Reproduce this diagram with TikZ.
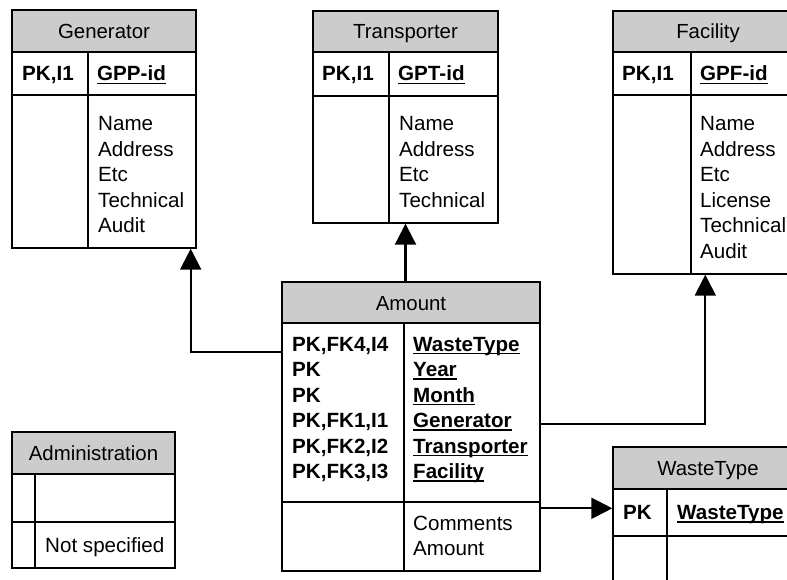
\documentclass[tikz,border=0pt]{standalone}
\usepackage{fontspec}
\setmainfont{Liberation Sans}
\usetikzlibrary{arrows.meta}

\newcommand{\keyul}[1]{\setbox0\hbox{#1}\rlap{\rule[-3.4pt]{\wd0}{1.6pt}}\box0}

\tikzset{
  tbl/.style={draw, line width=1.4pt, inner sep=0pt},
  hdr/.style={fill=black!20},
  fld/.style={inner sep=0pt, anchor=base west, font=\fontsize{20.6}{24}\selectfont},
  ttl/.style={inner sep=0pt, anchor=base, font=\fontsize{20.4}{24}\selectfont},
  conn/.style={line width=2.2pt, -{Triangle[length=21pt,width=21pt]}}
}

\begin{document}
\begin{tikzpicture}[x=1pt,y=-1pt]
	\clip (0,0) rectangle (787,580);
	% Generator
	\fill[hdr] (12,10) rectangle (196,52);
	\node[tbl, minimum width=184pt, minimum height=238pt] (gen) at (104,129) {};
	\draw[line width=1.4pt] (12,52) -- (196,52) (12,95) -- (196,95) (88,52) -- (88,248);
	\node[ttl] (gen-t) at (104,39) {Generator};
	\node[fld] (gen-pk) at (22,81) {\textbf{PK,I1}};
	\node[fld] (gen-id) at (97,81) {\textbf{\keyul{GPP-id}}};
	\node[fld] (gen-f1) at (98,131) {Name};
	\node[fld] (gen-f2) at (98,156.5) {Address};
	\node[fld] (gen-f3) at (98,182) {Etc};
	\node[fld] (gen-f4) at (98,207.5) {Technical};
	\node[fld] (gen-f5) at (98,233) {Audit};
	% Transporter
	\fill[hdr] (313,11) rectangle (498,52);
	\node[tbl, minimum width=185pt, minimum height=212pt] (trans) at (405.5,117) {};
	\draw[line width=1.4pt] (313,52) -- (498,52) (313,96) -- (498,96) (389,52) -- (389,223);
	\node[ttl] (trans-t) at (405.5,39) {Transporter};
	\node[fld] (trans-pk) at (322,81) {\textbf{PK,I1}};
	\node[fld] (trans-id) at (398,81) {\textbf{\keyul{GPT-id}}};
	\node[fld] (trans-f1) at (399,131) {Name};
	\node[fld] (trans-f2) at (399,156.5) {Address};
	\node[fld] (trans-f3) at (399,182) {Etc};
	\node[fld] (trans-f4) at (399,207.5) {Technical};
	% Facility
	\fill[hdr] (613,11) rectangle (803,52);
	\node[tbl, minimum width=190pt, minimum height=263pt] (fac) at (708,142.5) {};
	\draw[line width=1.4pt] (613,52) -- (803,52) (613,95) -- (803,95) (691,52) -- (691,274);
	\node[ttl] (fac-t) at (708,39) {Facility};
	\node[fld] (fac-pk) at (622,81) {\textbf{PK,I1}};
	\node[fld] (fac-id) at (700,81) {\textbf{\keyul{GPF-id}}};
	\node[fld] (fac-f1) at (700,131) {Name};
	\node[fld] (fac-f2) at (700,156.5) {Address};
	\node[fld] (fac-f3) at (700,182) {Etc};
	\node[fld] (fac-f4) at (700,207.5) {License};
	\node[fld] (fac-f5) at (700,233) {Technical};
	\node[fld] (fac-f6) at (700,258.5) {Audit};
	% Amount
	\fill[hdr] (282,282) rectangle (540,323);
	\node[tbl, minimum width=258pt, minimum height=289pt] (amt) at (411,426.5) {};
	\draw[line width=1.4pt] (282,323) -- (540,323) (282,502) -- (540,502) (404,323) -- (404,571);
	\node[ttl] (amt-t) at (411,310) {Amount};
	\node[fld] (amt-k1) at (292,351) {\textbf{PK,FK4,I4}};
	\node[fld] (amt-k2) at (292,376.5) {\textbf{PK}};
	\node[fld] (amt-k3) at (292,402) {\textbf{PK}};
	\node[fld] (amt-k4) at (292,427.5) {\textbf{PK,FK1,I1}};
	\node[fld] (amt-k5) at (292,453) {\textbf{PK,FK2,I2}};
	\node[fld] (amt-k6) at (292,478.5) {\textbf{PK,FK3,I3}};
	\node[fld] (amt-c1) at (413,351) {\textbf{\keyul{WasteType}}};
	\node[fld] (amt-c2) at (413,376.5) {\textbf{\keyul{Year}}};
	\node[fld] (amt-c3) at (413,402) {\textbf{\keyul{Month}}};
	\node[fld] (amt-c4) at (413,427.5) {\textbf{\keyul{Generator}}};
	\node[fld] (amt-c5) at (413,453) {\textbf{\keyul{Transporter}}};
	\node[fld] (amt-c6) at (413,478.5) {\textbf{\keyul{Facility}}};
	\node[fld] (amt-f1) at (413,530) {Comments};
	\node[fld] (amt-f2) at (413,555.5) {Amount};
	% Administration
	\fill[hdr] (12,432) rectangle (175,474);
	\node[tbl, minimum width=163pt, minimum height=136pt] (admin) at (93.5,500) {};
	\draw[line width=1.4pt] (12,474) -- (175,474) (12,522) -- (175,522) (35,474) -- (35,568);
	\node[ttl] (admin-t) at (93.5,460) {Administration};
	\node[fld] (admin-f1) at (45,552) {Not specified};
	% WasteType
	\fill[hdr] (613,447) rectangle (803,489);
	\node[tbl, minimum width=190pt, minimum height=173pt] (waste) at (708,533.5) {};
	\draw[line width=1.4pt] (613,489) -- (803,489) (613,536) -- (803,536) (667,489) -- (667,620);
	\node[ttl] (waste-t) at (708,475) {WasteType};
	\node[fld] (waste-pk) at (623,519.5) {\textbf{PK}};
	\node[fld] (waste-id) at (677,519.5) {\textbf{\keyul{WasteType}}};
	% connectors
	\coordinate (amt-gen) at ([yshift=-71pt]amt.north west);
	\coordinate (amt-fac) at ([yshift=-143pt]amt.north east);
	\coordinate (amt-wt) at ([yshift=-227pt]amt.north east);
	\draw[conn] (amt-gen) -| ([xshift=-6pt]gen.south east);
	\draw[conn] (amt.north -| trans.south) -- (trans.south);
	\draw[conn] (amt-fac) -| ([xshift=93pt]fac.south west);
	\draw[conn] (amt-wt) -- (amt-wt -| waste.west);
\end{tikzpicture}
\end{document}
